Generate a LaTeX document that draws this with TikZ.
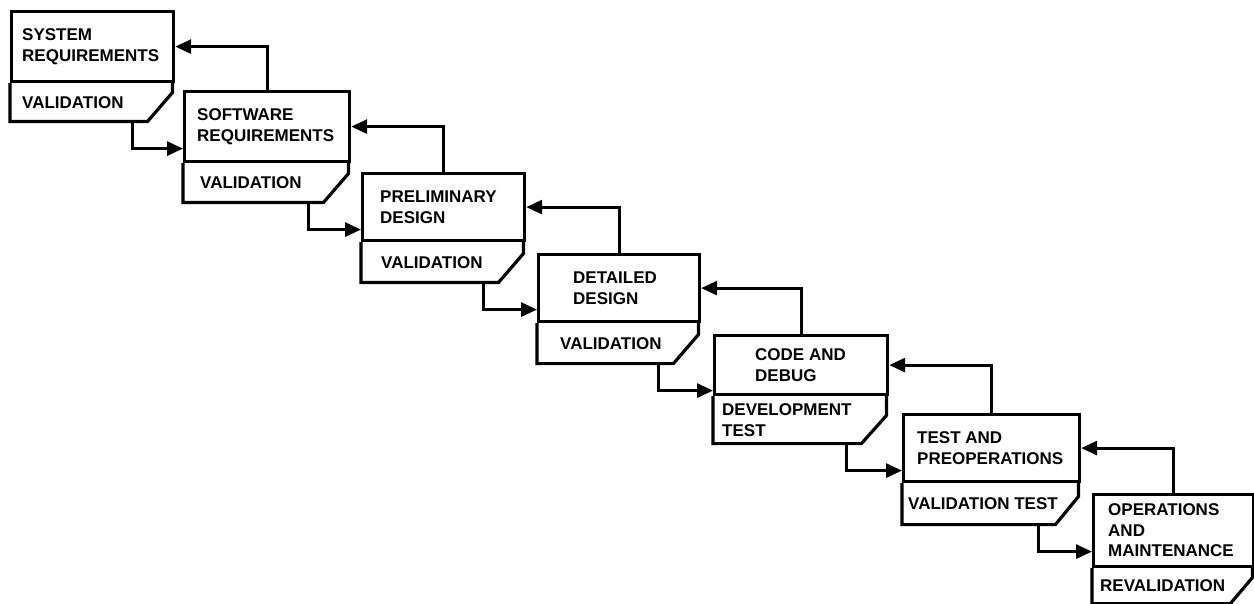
\documentclass[tikz,border=0pt]{standalone}
\usepackage{fontspec}
\setmainfont{Liberation Sans}
\usetikzlibrary{arrows.meta,calc}

\begin{document}
\begin{tikzpicture}[
    x=1pt, y=-1pt,
    font=\fontsize{17}{20.5}\selectfont\bfseries,
    flow/.style={-{Triangle[length=16pt,width=14pt]}, line width=3pt},
    phase/.style={draw, line width=3.2pt, anchor=north west, inner sep=0pt},
    check/.style={anchor=north west, inner sep=0pt},
    edge/.style={line width=3.2pt},
    txt/.style={anchor=west, align=left, inner sep=0pt}
  ]
  \useasboundingbox (0,0) rectangle (1254,604);

  % stages: upper part
  \node[phase, minimum width=162pt, minimum height=70pt] (p1) at (10,10) {};
  \node[phase, minimum width=165pt, minimum height=70pt] (p2) at (183,90) {};
  \node[phase, minimum width=162pt, minimum height=67pt] (p3) at (361,172) {};
  \node[phase, minimum width=161pt, minimum height=67pt] (p4) at (537,253) {};
  \node[phase, minimum width=173pt, minimum height=59pt] (p5) at (713,334) {};
  \node[phase, minimum width=176pt, minimum height=67pt] (p6) at (902,413) {};
  \node[phase, minimum width=160pt, minimum height=72pt] (p7) at (1092,493) {};

  % stages: lower part
  \node[check, minimum width=162pt, minimum height=38pt] (v1) at (p1.south west) {};
  \node[check, minimum width=165pt, minimum height=39pt] (v2) at (p2.south west) {};
  \node[check, minimum width=162pt, minimum height=40pt] (v3) at (p3.south west) {};
  \node[check, minimum width=161pt, minimum height=40pt] (v4) at (p4.south west) {};
  \node[check, minimum width=173pt, minimum height=47pt] (v5) at (p5.south west) {};
  \node[check, minimum width=176pt, minimum height=41pt] (v6) at (p6.south west) {};
  \node[check, minimum width=160pt, minimum height=35pt] (v7) at (p7.south west) {};

  % chamfered outlines
  \draw[edge] (v1.north east) -- ($(v1.south east)+(0,-29)$) -- ($(v1.south east)+(-25,0)$) -- (v1.south west) -- (v1.north west);
  \draw[edge] (v2.north east) -- ($(v2.south east)+(0,-29)$) -- ($(v2.south east)+(-25,0)$) -- (v2.south west) -- (v2.north west);
  \draw[edge] (v3.north east) -- ($(v3.south east)+(0,-29)$) -- ($(v3.south east)+(-25,0)$) -- (v3.south west) -- (v3.north west);
  \draw[edge] (v4.north east) -- ($(v4.south east)+(0,-29)$) -- ($(v4.south east)+(-25,0)$) -- (v4.south west) -- (v4.north west);
  \draw[edge] (v5.north east) -- ($(v5.south east)+(0,-28)$) -- ($(v5.south east)+(-25,0)$) -- (v5.south west) -- (v5.north west);
  \draw[edge] (v6.north east) -- ($(v6.south east)+(0,-28)$) -- ($(v6.south east)+(-23,0)$) -- (v6.south west) -- (v6.north west);
  \draw[edge] (v7.north east) -- ($(v7.south east)+(0,-26)$) -- ($(v7.south east)+(-22,0)$) -- (v7.south west) -- (v7.north west);

  % texts
  \node[txt] (t1) at ($(p1.west)+(12,0)$) {SYSTEM\\REQUIREMENTS};
  \node[txt] (t2) at ($(p2.west)+(14,0)$) {SOFTWARE\\REQUIREMENTS};
  \node[txt] (t3) at ($(p3.west)+(19,0)$) {PRELIMINARY\\DESIGN};
  \node[txt] (t4) at ($(p4.west)+(36,0)$) {DETAILED\\DESIGN};
  \node[txt] (t5) at ($(p5.west)+(42,0)$) {CODE AND\\DEBUG};
  \node[txt] (t6) at ($(p6.west)+(15,0)$) {TEST AND\\PREOPERATIONS};
  \node[txt] (t7) at ($(p7.west)+(16,0)$) {OPERATIONS\\AND\\MAINTENANCE};

  \node[txt] (u1) at ($(v1.west)+(12,0)$) {VALIDATION};
  \node[txt] (u2) at ($(v2.west)+(17,0)$) {VALIDATION};
  \node[txt] (u3) at ($(v3.west)+(20,0)$) {VALIDATION};
  \node[txt] (u4) at ($(v4.west)+(23,0)$) {VALIDATION};
  \node[txt] (u5) at ($(v5.west)+(9,0)$) {DEVELOPMENT\\TEST};
  \node[txt] (u6) at ($(v6.west)+(6,0)$) {VALIDATION TEST};
  \node[txt] (u7) at ($(v7.west)+(8,0)$) {REVALIDATION};

  % forward flow
  \draw[flow] ($(v1.south east)+(-40,0)$) |- ($(v1.south -| p2.west)+(0,27)$);
  \draw[flow] ($(v2.south east)+(-40,0)$) |- ($(v2.south -| p3.west)+(0,27)$);
  \draw[flow] ($(v3.south east)+(-40,0)$) |- ($(v3.south -| p4.west)+(0,27)$);
  \draw[flow] ($(v4.south east)+(-40,0)$) |- ($(v4.south -| p5.west)+(0,27)$);
  \draw[flow] ($(v5.south east)+(-40,0)$) |- ($(v5.south -| p6.west)+(0,27)$);
  \draw[flow] ($(v6.south east)+(-40,0)$) |- ($(v6.south -| p7.west)+(0,27)$);

  % feedback
  \draw[flow] (p2.north) |- (p1.east);
  \draw[flow] (p3.north) |- (p2.east);
  \draw[flow] (p4.north) |- (p3.east);
  \draw[flow] (p5.north) |- (p4.east);
  \draw[flow] (p6.north) |- (p5.east);
  \draw[flow] (p7.north) |- (p6.east);
\end{tikzpicture}
\end{document}
